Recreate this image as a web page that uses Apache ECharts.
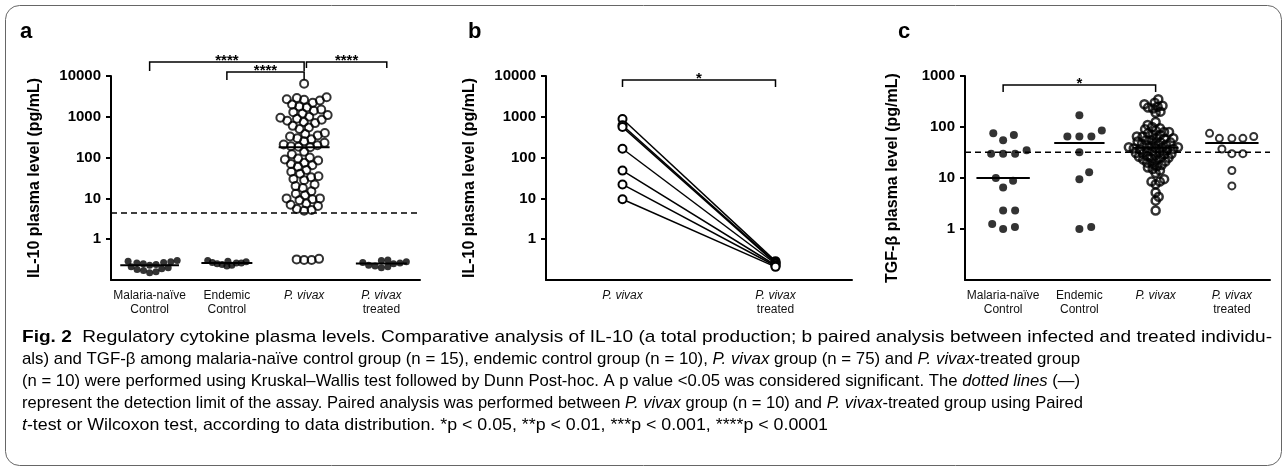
<!DOCTYPE html>
<html>
<head>
<meta charset="utf-8">
<script src="https://cdn.jsdelivr.net/npm/echarts@6/dist/echarts.min.js"></script>
<style>
  html, body { margin: 0; background: #fff; }
  #chart { width: 1287px; height: 469px; }
</style>
</head>
<body>
<div id="chart"></div>
<script>
// ---- data ----
const groups = ['Malaria-naïve\nControl', 'Endemic\nControl', 'P. vivax', 'P. vivax\ntreated']
const pairedGroups = ['P. vivax', 'P. vivax\ntreated']

// panel a, IL-10 (pg/mL)
const il10Naive = [0.15, 0.16, 0.17, 0.18, 0.19, 0.2, 0.21, 0.23, 0.24, 0.25, 0.26, 0.27, 0.28, 0.29, 0.3]
const il10Endemic = [0.22, 0.23, 0.24, 0.25, 0.26, 0.26, 0.27, 0.28, 0.29, 0.3]
const il10Vivax = [6500,
  3000, 2900, 2700, 2600, 2500, 2200, 2000, 1800,
  1700, 1500, 1400, 1300, 1200, 1100,
  1000, 950, 900, 850, 800, 750, 700,
  600, 550, 500, 400,
  380, 350, 330, 300, 280,
  250, 230, 210, 200, 190,
  185, 180, 140, 120,
  100, 95, 90, 85,
  75, 70, 65, 60,
  50, 45, 40,
  35, 33, 30, 28,
  22, 20, 18,
  15, 13, 12,
  10, 10, 9.5, 9,
  7.5, 7, 6.5,
  5.5, 5.2, 5,
  0.31, 0.31, 0.32, 0.33]
const il10Treated = [0.2, 0.21, 0.22, 0.23, 0.25, 0.26, 0.27, 0.28, 0.3, 0.31]
const il10Limit = 4.4

// panel b, paired IL-10
const pairedVivax = [880, 620, 560, 165, 48, 22, 9.5]
const pairedTreated = [0.29, 0.27, 0.26, 0.25, 0.23, 0.22, 0.21]

// panel c, TGF-beta (pg/mL)
const tgfNaive = [75, 55, 70, 35, 30, 30, 30, 10, 8.8, 6.5, 2.3, 2.3, 1.25, 1.0, 1.1]
const tgfEndemic = [170, 85, 65, 65, 65, 32, 13, 9.5, 1.0, 1.1]
const tgfVivax = [350, 300, 280, 260, 250, 240, 230, 200, 190, 125,
  110, 100, 95, 90, 85, 80, 80, 75, 70, 70,
  65, 65, 60, 60, 58, 55, 55, 52, 50, 50,
  48, 46, 45, 44, 42, 40, 40, 39, 38, 38,
  37, 36, 35, 34, 33, 32, 31, 30, 30, 29,
  28, 27, 26, 25, 25, 24, 23, 22, 21, 20,
  19, 18, 17, 16, 15, 14,
  12.5, 9.5, 8.5, 8.5, 7.5, 5.2, 4.3, 3.6, 2.3]
const tgfTreated = [75, 60, 60, 60, 65, 37, 30, 30, 14, 7]
const tgfLimit = 32

const il10Ticks = [1, 10, 100, 1000, 10000]
const tgfTicks = [1, 10, 100, 1000]

const captionLines = [
  '{b|Fig. 2}{n|  Regulatory cytokine plasma levels. Comparative analysis of IL-10 (a total production; b paired analysis between infected and treated individu-}',
  '{n|als) and TGF-β among malaria-naïve control group (n = 15), endemic control group (n = 10), }{i|P. vivax}{n| group (n = 75) and }{i|P. vivax}{n|-treated group}',
  '{n|(n = 10) were performed using Kruskal–Wallis test followed by Dunn Post-hoc. A p value <0.05 was considered significant. The }{i|dotted lines}{n| (—)}',
  '{n|represent the detection limit of the assay. Paired analysis was performed between }{i|P. vivax}{n| group (n = 10) and }{i|P. vivax}{n|-treated group using Paired}',
  '{i|t}{n|-test or Wilcoxon test, according to data distribution. *p < 0.05, **p < 0.01, ***p < 0.001, ****p < 0.0001}'
]

// ---- chart ----
const FONT = '"Liberation Sans", Arial, sans-serif'

let myChart = echarts.init(document.getElementById('chart'))

function catLabel(v) {
  return v.split('\n').map(s => (s.indexOf('P. vivax') === 0 ? '{i|' + s + '}' : '{n|' + s + '}')).join('\n')
}

const labelRich = {
  n: { fontFamily: FONT, fontSize: 12, color: '#111', lineHeight: 14 },
  i: { fontFamily: FONT, fontSize: 12, color: '#111', lineHeight: 14, fontStyle: 'italic' },
}

function catAxis(grid, cats) {
  return {
    type: 'category', gridIndex: grid, data: cats, boundaryGap: true,
    axisLine: { onZero: false, lineStyle: { color: '#000', width: 2 } },
    axisTick: { alignWithLabel: true, length: 5, lineStyle: { color: '#000', width: 2 } },
    axisLabel: { interval: 0, margin: 9, formatter: catLabel, rich: labelRich },
    splitLine: { show: false },
  }
}

function valAxis(grid, n) {
  return { type: 'value', gridIndex: grid, min: 0.5, max: n + 0.5, show: false, splitLine: { show: false } }
}

function logAxis(grid, max, ticks, name, gap) {
  return {
    type: 'log', logBase: 10, gridIndex: grid, min: 0.1, max: max,
    name: name, nameLocation: 'middle', nameRotate: 90, nameGap: gap,
    nameTextStyle: { fontFamily: FONT, fontWeight: 'bold', fontSize: 16, color: '#000' },
    axisLine: { show: true, lineStyle: { color: '#000', width: 2 } },
    axisTick: { show: true, length: 5, customValues: ticks, lineStyle: { color: '#000', width: 2 } },
    axisLabel: {
      customValues: ticks, margin: 10,
      fontFamily: FONT, fontWeight: 'bold', fontSize: 15, color: '#000',
      formatter: v => (v >= 1 ? String(Math.round(v)) : ''),
    },
    splitLine: { show: false },
  }
}

function limitLine(xi, yi, n, value) {
  return {
    type: 'line', xAxisIndex: xi, yAxisIndex: yi, silent: true, z: 1,
    data: [[0.5, value], [n + 0.5, value]], symbol: 'none',
    lineStyle: { color: '#000', width: 1.5, type: [6, 4] },
  }
}

myChart.setOption({
  animation: false,
  grid: [
    { left: 111, top: 76, width: 309, height: 204, outerBoundsMode: 'none' },
    { left: 546, top: 76, width: 306, height: 204, outerBoundsMode: 'none' },
    { left: 965, top: 76, width: 305, height: 204, outerBoundsMode: 'none' },
  ],
  xAxis: [catAxis(0, groups), valAxis(0, 4), catAxis(1, pairedGroups), valAxis(1, 2), catAxis(2, groups), valAxis(2, 4)],
  yAxis: [
    logAxis(0, 10000, il10Ticks, 'IL-10 plasma level (pg/mL)', 68),
    logAxis(1, 10000, il10Ticks, 'IL-10 plasma level (pg/mL)', 68),
    logAxis(2, 1000, tgfTicks, 'TGF-β plasma level (pg/mL)', 64),
  ],
  series: [limitLine(1, 0, 4, il10Limit), limitLine(5, 2, 4, tgfLimit)],
})

// beeswarm: spread points sideways so they do not overlap more than minDist
function swarm(values, yAxisIndex, minDist) {
  let pts = values.map((v, i) => ({ i, y: myChart.convertToPixel({ yAxisIndex }, v) }))
  pts.sort((a, b) => b.y - a.y)
  let placed = []
  let dx = values.map(() => 0)
  pts.forEach(p => {
    let cands = [0]
    placed.forEach(q => {
      let dy = Math.abs(q.y - p.y)
      if (dy < minDist) {
        let w = Math.sqrt(minDist * minDist - dy * dy)
        cands.push(q.x + w, q.x - w)
      }
    })
    cands.sort((a, b) => Math.abs(a) - Math.abs(b))
    let x = cands.find(c => placed.every(q => (q.x - c) ** 2 + (q.y - p.y) ** 2 >= minDist * minDist - 0.01))
    placed.push({ x, y: p.y })
    dx[p.i] = x
  })
  return dx
}

function median(arr) {
  let s = arr.slice().sort((a, b) => a - b)
  let m = Math.floor(s.length / 2)
  return s.length % 2 ? s[m] : (s[m - 1] + s[m]) / 2
}

function dotSeries(values, cat, xi, yi, minDist, filled, size, stroke) {
  let unit = myChart.convertToPixel({ xAxisIndex: xi }, 2) - myChart.convertToPixel({ xAxisIndex: xi }, 1)
  let dx = swarm(values, yi, minDist)
  return {
    type: 'scatter', xAxisIndex: xi, yAxisIndex: yi, silent: true, z: 2,
    symbol: 'circle', symbolSize: size,
    data: values.map((v, k) => [cat + dx[k] / unit, v]),
    itemStyle: filled
      ? { color: '#000' }
      : { color: 'rgba(0,0,0,0)', borderColor: '#000', borderWidth: stroke || 2 },
  }
}

function medianSeries(values, cat, xi, yi, half) {
  let m = median(values)
  return {
    type: 'line', xAxisIndex: xi, yAxisIndex: yi, silent: true, z: 4,
    data: [[cat - half, m], [cat + half, m]], symbol: 'none',
    lineStyle: { color: '#000', width: 2 },
  }
}

let series = [limitLine(1, 0, 4, il10Limit), limitLine(5, 2, 4, tgfLimit)]

// panel a
series.push(dotSeries(il10Naive, 1, 1, 0, 6.5, true, 7))
series.push(dotSeries(il10Endemic, 2, 1, 0, 5, true, 7))
series.push(dotSeries(il10Vivax, 3, 1, 0, 7.5, false, 8))
series.push(dotSeries(il10Treated, 4, 1, 0, 6.5, true, 7))
series.push(medianSeries(il10Naive, 1, 1, 0, 0.38))
series.push(medianSeries(il10Endemic, 2, 1, 0, 0.33))
series.push(medianSeries(il10Vivax, 3, 1, 0, 0.33))
series.push(medianSeries(il10Treated, 4, 1, 0, 0.33))

// panel b
pairedVivax.forEach((v, k) => {
  series.push({
    type: 'line', xAxisIndex: 3, yAxisIndex: 1, silent: true, z: 3,
    data: [[1, v], [2, pairedTreated[k]]],
    symbol: 'circle', symbolSize: 8,
    itemStyle: { color: '#fff', borderColor: '#000', borderWidth: 2 },
    lineStyle: { color: '#000', width: 1.5 },
  })
})

// panel c
series.push(dotSeries(tgfNaive, 1, 5, 2, 12, true, 8))
series.push(dotSeries(tgfEndemic, 2, 5, 2, 12, true, 8))
series.push(dotSeries(tgfVivax, 3, 5, 2, 5, false, 8, 2.5))
series.push(dotSeries(tgfTreated, 4, 5, 2, 11, false, 7))
series.push(medianSeries(tgfNaive, 1, 5, 2, 0.35))
series.push(medianSeries(tgfEndemic, 2, 5, 2, 0.33))
series.push(medianSeries(tgfVivax, 3, 5, 2, 0.3))
series.push(medianSeries(tgfTreated, 4, 5, 2, 0.35))

// significance brackets: axis, from, to, px offset from grid top, drop, stars
const TOP = 76
let graphics = []

function bracket(xi, from, to, off, drop, stars) {
  let x1 = myChart.convertToPixel({ xAxisIndex: xi }, from)
  let x2 = myChart.convertToPixel({ xAxisIndex: xi }, to)
  let y = TOP + off
  graphics.push({
    type: 'polyline', silent: true,
    shape: { points: [[x1, y + drop], [x1, y], [x2, y], [x2, y + drop]] },
    style: { stroke: '#000', lineWidth: 1.5, fill: null },
  })
  graphics.push({
    type: 'text', silent: true, x: (x1 + x2) / 2, y: y + 6,
    style: { text: stars, font: 'bold 15px ' + FONT, fill: '#000', align: 'center', verticalAlign: 'bottom' },
  })
}

bracket(1, 1, 3, -14, 9, '****')
bracket(1, 2, 3, -4, 8, '****')
bracket(1, 3.03, 4.07, -14, 6, '****')
bracket(3, 1, 2, 4, 7, '*')
bracket(5, 1, 3, 9, 7, '*')

// panel letters
;[['a', 20], ['b', 468], ['c', 898]].forEach(([t, x]) => {
  graphics.push({
    type: 'text', silent: true, x: x, y: 32,
    style: { text: t, font: 'bold 22px ' + FONT, fill: '#000', verticalAlign: 'middle' },
  })
})

// caption: the figure's caption font is condensed, so each line is narrowed to its width there
const CAP_SIZE = 17
const CAP_LEFT = 22
const capEnds = [1272, 1080, 1080, 1083, 828]
const capRich = {
  b: { fontFamily: FONT, fontSize: CAP_SIZE, fontWeight: 'bold', color: '#231f20' },
  n: { fontFamily: FONT, fontSize: CAP_SIZE, color: '#231f20' },
  i: { fontFamily: FONT, fontSize: CAP_SIZE, fontStyle: 'italic', color: '#231f20' },
}
let ctx = document.createElement('canvas').getContext('2d')
function richWidth(line) {
  let w = 0
  line.replace(/\{(\w)\|([^}]*)\}/g, (m, key, txt) => {
    let st = capRich[key]
    ctx.font = (st.fontStyle || 'normal') + ' ' + (st.fontWeight || 'normal') + ' ' + CAP_SIZE + 'px ' + FONT
    w += ctx.measureText(txt).width
    return m
  })
  return w
}
captionLines.forEach((line, k) => {
  graphics.push({
    type: 'text', silent: true, x: CAP_LEFT, y: 337 + k * 22,
    scaleX: (capEnds[k] - CAP_LEFT) / richWidth(line),
    style: { text: line, rich: capRich, verticalAlign: 'middle' },
  })
})

graphics.push({
  type: 'rect', silent: true, z: -1,
  shape: { x: 5.5, y: 5.5, width: 1276, height: 460, r: 14 },
  style: { fill: null, stroke: '#666', lineWidth: 1 },
})

myChart.setOption({ series: series, graphic: graphics })
</script>
</body>
</html>
